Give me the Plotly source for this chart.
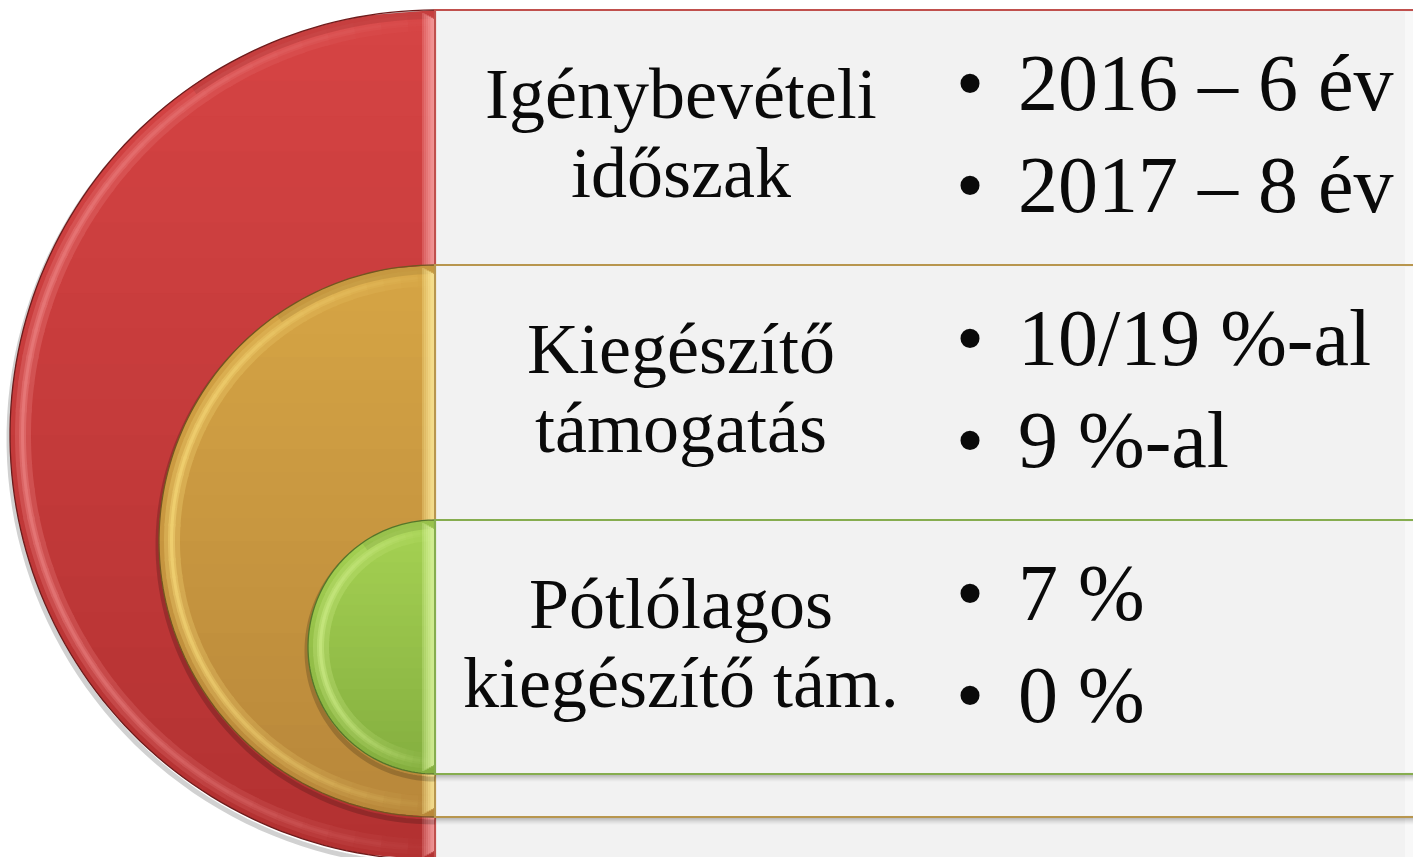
import numpy as np
import plotly.graph_objects as go

# ---------------- data ----------------
label_lines = [
    ["Igénybevételi", "időszak"],
    ["Kiegészítő", "támogatás"],
    ["Pótlólagos", "kiegészítő tám."],
]
bullet_items = [
    ["2016 – 6 év", "2017 – 8 év"],
    ["10/19 %-al", "9 %-al"],
    ["7 %", "0 %"],
]
# base top / base bottom / outline / highlight / box border
row_styles = [
    dict(top="#d64444", bot="#b23131", edge="#6e1c1c", hi="#f08a8a", band="#f7a4a4", border="#c0504d"),
    dict(top="#d6a545", bot="#b8873a", edge="#735620", hi="#fbe07e", band="#fdeb9c", border="#b8964e"),
    dict(top="#a6d253", bot="#84ae3f", edge="#55762a", hi="#d2f08c", band="#dcf5a0", border="#86ad4f"),
]

# ---------------- layout constants ----------------
W, H = 1413, 857
CX = 435
TOPS = [10, 265, 520]
BOTTOMS = [860, 817, 774]
BOX_FILL = "#f2f2f2"
LABEL_X = 681
LABEL_BASE = [108, 187]
BULLET_BASE = [100, 202]
BULLET_DOT_X = 970
BULLET_TEXT_X = 1016
LABEL_SIZE = 72
BULLET_SIZE = 80
FONT = "Liberation Serif"


def hex2rgb(h):
    h = h.lstrip("#")
    return tuple(int(h[i:i + 2], 16) for i in (0, 2, 4))


def mix(a, b, t):
    return tuple(a[i] + (b[i] - a[i]) * t for i in range(3))


def css(c):
    return "rgb(%d,%d,%d)" % tuple(round(v) for v in c)


def pth(pts, close=True):
    s = "M " + " L ".join("%.2f,%.2f" % p for p in pts)
    return s + (" Z" if close else "")


def arc(cx, cy, r, p0, p1, n=60):
    ph = np.linspace(np.radians(p0), np.radians(p1), n)
    return [(cx + r * np.cos(p), cy - r * np.sin(p)) for p in ph]


shapes = []
for i, st in enumerate(row_styles):
    top, bot = TOPS[i], BOTTOMS[i]
    cy = (top + bot) / 2
    r = (bot - top) / 2
    ctop, cbot, chi = hex2rgb(st["top"]), hex2rgb(st["bot"]), hex2rgb(st["hi"])

    def base_at(y):
        return mix(ctop, cbot, min(max((y - top) / (bot - top), 0), 1))

    # drop shadow of the half disk
    shapes.append(dict(type="path", path=pth([(x, y + 4) for x, y in arc(CX, cy, r + 1, 90, 270, 90)], close=False),
                       line=dict(color="rgba(0,0,0,0.18)", width=5), fillcolor="rgba(0,0,0,0)"))

    # base fill with vertical gradient (horizontal bands)
    nb = 24
    for k in range(nb):
        a = top + (bot - top) * k / nb
        b = min(top + (bot - top) * (k + 1) / nb + 2.0, bot)
        ys = np.linspace(a, b, 8)
        left = [(CX - np.sqrt(max(r * r - (y - cy) ** 2, 0)), y) for y in ys]
        pts = left + [(CX, b), (CX, a)]
        shapes.append(dict(type="path", path=pth(pts), fillcolor=css(base_at((a + b) / 2)),
                           line=dict(width=0)))

    # bevel highlight ring (strongest on the left side), opaque blended colours
    nseg = 48
    for (ro, ri, alpha) in [(r - 5, r - 21, 0.28), (r - 9, r - 16, 0.55), (r - 11, r - 14, 0.75)]:
        for k in range(nseg):
            p0 = 90 + 180 * k / nseg
            p1 = min(90 + 180 * (k + 1) / nseg + 0.6, 270)
            pm = np.radians((p0 + p1) / 2)
            w = max(-np.cos(pm), 0) ** 0.8
            if w < 0.04:
                continue
            ym = cy - (ro + ri) / 2 * np.sin(pm)
            col = mix(base_at(ym), chi, alpha * w)
            outer = arc(CX, cy, ro, p0, p1, 5)
            inner = arc(CX, cy, ri, p1, p0, 5)
            shapes.append(dict(type="path", path=pth(outer + inner), fillcolor=css(col), line=dict(width=0)))

    # darker band along the top edge
    shapes.append(dict(type="path", path=pth(arc(CX, cy, r, 90, 125, 20) + arc(CX, cy, r - 9, 125, 90, 20)),
                       fillcolor="rgba(0,0,0,0.07)", line=dict(width=0)))

    # light vertical band along the flat right edge
    ns = 6
    for k in range(ns):
        x0 = CX - 13 + 13 * k / ns
        x1 = CX - 13 + 13 * (k + 1) / ns + 0.5
        shapes.append(dict(type="rect", x0=x0, x1=x1, y0=top + 3 + k * 1.2, y1=bot - 3 - k * 1.2,
                           fillcolor=st["band"], opacity=0.15 + 0.75 * (k + 1) / ns, line=dict(width=0)))

    # dark outline along the arc
    shapes.append(dict(type="path", path=pth(arc(CX, cy, r, 90, 270, 120), close=False),
                       line=dict(color=st["edge"], width=1.3), fillcolor="rgba(0,0,0,0)"))

    # shadow under the text box
    for k in range(7):
        shapes.append(dict(type="line", x0=CX, x1=W + 10, y0=bot + 1.5 + k, y1=bot + 1.5 + k,
                           line=dict(color="rgba(0,0,0,%.3f)" % (0.22 * (1 - k / 7) ** 1.5), width=1.2)))

    # text box
    shapes.append(dict(type="rect", x0=CX, x1=W + 20, y0=top, y1=bot, fillcolor=BOX_FILL,
                       line=dict(color=st["border"], width=2.2)))
    # faint light strip at the right end of the box
    shapes.append(dict(type="rect", x0=1405, x1=W + 5, y0=top + 2, y1=bot - 2, fillcolor="white",
                       opacity=0.45, line=dict(width=0)))

annotations = []


def text_ann(x, baseline, txt, size, xanchor):
    return dict(x=x, y=baseline - 0.3375 * size, xref="x", yref="y", text=txt, showarrow=False,
                xanchor=xanchor, yanchor="middle", font=dict(family=FONT, size=size, color="#0a0a0a"))


for i in range(3):
    top = TOPS[i]
    for j, line in enumerate(label_lines[i]):
        annotations.append(text_ann(LABEL_X, top + LABEL_BASE[j], line, LABEL_SIZE, "center"))
    for j, item in enumerate(bullet_items[i]):
        annotations.append(text_ann(BULLET_DOT_X, top + BULLET_BASE[j], "•", BULLET_SIZE, "center"))
        annotations.append(text_ann(BULLET_TEXT_X, top + BULLET_BASE[j], item, BULLET_SIZE, "left"))

fig = go.Figure()
fig.add_trace(go.Scatter(x=[0, W], y=[0, H], mode="markers", marker=dict(opacity=0), hoverinfo="skip",
                         showlegend=False))
fig.update_layout(
    width=W, height=H, margin=dict(l=0, r=0, t=0, b=0),
    paper_bgcolor="white", plot_bgcolor="white",
    xaxis=dict(range=[0, W], visible=False, fixedrange=True),
    yaxis=dict(range=[H, 0], visible=False, fixedrange=True),
    shapes=shapes, annotations=annotations, showlegend=False,
)
fig.write_html("out.html", config={"displayModeBar": False},
               post_script="document.body.style.margin='0';document.body.style.overflow='hidden';")
